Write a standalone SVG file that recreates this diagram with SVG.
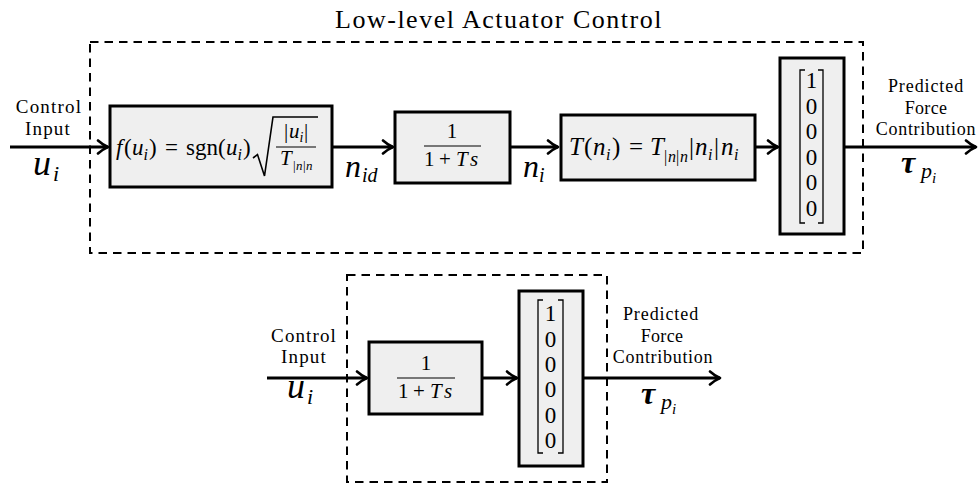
<svg xmlns="http://www.w3.org/2000/svg" width="979" height="487" viewBox="0 0 979 487">
<defs>
<style>
.t{font-family:"Liberation Serif","Times New Roman",serif;fill:#000}
.m{font-family:"Liberation Serif","Times New Roman",serif;font-style:italic;fill:#000}
.blk{fill:#efefef;stroke:#000;stroke-width:3}
.dash{fill:none;stroke:#000;stroke-width:2;stroke-dasharray:8.5 6}
.wire{fill:none;stroke:#000;stroke-width:3}
.thin{fill:none;stroke:#000;stroke-width:1.3}
</style>
<marker id="ah" viewBox="-12 -8 14 16" refX="0" refY="0" markerWidth="14" markerHeight="16" markerUnits="userSpaceOnUse" orient="auto">
<path d="M-10,-6.5 Q-5,-2 0,0 Q-5,2 -10,6.5" fill="none" stroke="#000" stroke-width="2.6" stroke-linecap="round" stroke-linejoin="round"/>
</marker>
</defs>
<rect width="979" height="487" fill="#fff"/>

<g id="title">
<text class="t" x="499" y="28" font-size="26" text-anchor="middle" letter-spacing="1.5">Low-level Actuator Control</text>
</g>

<g id="frame-top"><rect class="dash" x="90" y="42" width="773" height="211"/></g>
<g id="frame-bottom"><rect class="dash" x="347" y="275" width="260" height="207"/></g>

<g id="connectors">
<line class="wire" x1="10" y1="147" x2="108" y2="147" marker-end="url(#ah)"/>
<line class="wire" x1="333" y1="147" x2="393" y2="147" marker-end="url(#ah)"/>
<line class="wire" x1="511" y1="147" x2="558" y2="147" marker-end="url(#ah)"/>
<line class="wire" x1="756" y1="147" x2="778" y2="147" marker-end="url(#ah)"/>
<line class="wire" x1="845" y1="147" x2="976" y2="147" marker-end="url(#ah)"/>
<line class="wire" x1="267" y1="378" x2="367" y2="378" marker-end="url(#ah)"/>
<line class="wire" x1="483" y1="378" x2="517" y2="378" marker-end="url(#ah)"/>
<line class="wire" x1="584" y1="378" x2="720" y2="378" marker-end="url(#ah)"/>
</g>

<g id="labels-top">
<text class="t" x="49" y="113" font-size="19" text-anchor="middle" letter-spacing="1.2">Control</text>
<text class="t" x="48" y="135" font-size="19" text-anchor="middle" letter-spacing="1.2">Input</text>
<text class="m" x="33" y="175" font-size="36">u</text>
<text class="m" x="53" y="181" font-size="22">i</text>
<text class="m" x="345" y="177" font-size="32">n</text>
<text class="m" x="362" y="182" font-size="20">id</text>
<text class="m" x="523" y="177" font-size="32">n</text>
<text class="m" x="539" y="182" font-size="20">i</text>
<text class="t" x="926" y="92" font-size="18" text-anchor="middle" letter-spacing="0.9">Predicted</text>
<text class="t" x="926" y="114" font-size="18" text-anchor="middle" letter-spacing="0.3">Force</text>
<text class="t" x="926" y="135" font-size="18" text-anchor="middle" letter-spacing="0.7">Contribution</text>
<text class="m" x="901" y="173" font-size="32" font-weight="bold">τ</text>
<text class="m" x="921" y="178" font-size="22">p</text>
<text class="m" x="932" y="183" font-size="15">i</text>
</g>

<g id="block-f">
<rect class="blk" x="110" y="106" width="222" height="81"/>
<text class="m" x="116" y="155" font-size="23">f</text>
<text class="t" x="124" y="155" font-size="23">(</text>
<text class="m" x="132" y="155" font-size="23">u</text>
<text class="m" x="143.5" y="160" font-size="16">i</text>
<text class="t" x="149" y="155" font-size="23">)</text>
<text class="t" x="165" y="155" font-size="23">=</text>
<text class="t" x="186" y="155" font-size="23">sgn(</text>
<text class="m" x="226" y="155" font-size="23">u</text>
<text class="m" x="237.5" y="160" font-size="16">i</text>
<text class="t" x="243" y="155" font-size="23">)</text>
<path d="M253,158 L257.5,154.5 L264.5,176 L273,117 L318,117" fill="none" stroke="#000" stroke-width="1.6" stroke-linejoin="miter"/>
<line x1="276" y1="147" x2="316" y2="147" stroke="#000" stroke-width="1.2"/>
<text class="t" x="284" y="138" font-size="21">|</text>
<text class="m" x="289" y="138" font-size="21">u</text>
<text class="m" x="299.5" y="142" font-size="14">i</text>
<text class="t" x="304" y="138" font-size="21">|</text>
<text class="m" x="280" y="165" font-size="21">T</text>
<text class="t" x="293" y="170" font-size="13">|</text>
<text class="m" x="296" y="170" font-size="13">n</text>
<text class="t" x="303" y="170" font-size="13">|</text>
<text class="m" x="306" y="170" font-size="13">n</text>
</g>

<g id="block-lag">
<rect class="blk" x="395" y="112" width="115" height="71"/>
<text class="t" x="452" y="138" font-size="21" text-anchor="middle">1</text>
<line x1="424" y1="146" x2="481" y2="146" stroke="#000" stroke-width="1.2"/>
<text class="t" x="424" y="166" font-size="21">1</text>
<text class="t" x="439" y="166" font-size="21">+</text>
<text class="m" x="456" y="166" font-size="21">T</text>
<text class="m" x="470" y="166" font-size="21">s</text>
</g>

<g id="block-T">
<rect class="blk" x="561" y="115" width="194" height="65"/>
<text class="m" x="569" y="155" font-size="25">T</text>
<text class="t" x="584" y="155" font-size="25">(</text>
<text class="m" x="593" y="155" font-size="25">n</text>
<text class="m" x="606" y="160" font-size="16">i</text>
<text class="t" x="612" y="155" font-size="25">)</text>
<text class="t" x="629" y="155" font-size="25">=</text>
<text class="m" x="650" y="155" font-size="25">T</text>
<text class="t" x="664" y="162" font-size="16">|</text>
<text class="m" x="668" y="162" font-size="16">n</text>
<text class="t" x="676" y="162" font-size="16">|</text>
<text class="m" x="680" y="162" font-size="16">n</text>
<text class="t" x="689" y="155" font-size="25">|</text>
<text class="m" x="695" y="155" font-size="25">n</text>
<text class="m" x="708" y="160" font-size="16">i</text>
<text class="t" x="714" y="155" font-size="25">|</text>
<text class="m" x="721" y="155" font-size="25">n</text>
<text class="m" x="734" y="160" font-size="16">i</text>
</g>

<g id="block-matrix-top">
<rect class="blk" x="780" y="58" width="64" height="176"/>
<path class="thin" d="M805,70 L800,70 L800,223 L805,223 M818,70 L823,70 L823,223 L818,223"/>
<g class="t" font-size="23" text-anchor="middle">
<text x="811.5" y="88">1</text>
<text x="811.5" y="113.5">0</text>
<text x="811.5" y="139">0</text>
<text x="811.5" y="164.5">0</text>
<text x="811.5" y="190">0</text>
<text x="811.5" y="215.5">0</text>
</g>
</g>

<g id="labels-bottom">
<text class="t" x="304" y="342" font-size="19" text-anchor="middle" letter-spacing="1.1">Control</text>
<text class="t" x="304" y="363" font-size="19" text-anchor="middle" letter-spacing="1.2">Input</text>
<text class="m" x="287" y="398" font-size="36">u</text>
<text class="m" x="307" y="404" font-size="22">i</text>
<text class="t" x="661" y="320" font-size="18" text-anchor="middle" letter-spacing="0.9">Predicted</text>
<text class="t" x="662" y="342" font-size="18" text-anchor="middle" letter-spacing="0.3">Force</text>
<text class="t" x="663" y="363" font-size="18" text-anchor="middle" letter-spacing="0.7">Contribution</text>
<text class="m" x="641" y="404" font-size="32" font-weight="bold">τ</text>
<text class="m" x="661" y="409" font-size="22">p</text>
<text class="m" x="672" y="414" font-size="15">i</text>
</g>

<g id="block-lag-bottom">
<rect class="blk" x="369" y="342" width="113" height="72"/>
<text class="t" x="426" y="370" font-size="21" text-anchor="middle">1</text>
<line x1="397" y1="378" x2="455" y2="378" stroke="#000" stroke-width="1.2"/>
<text class="t" x="398" y="398" font-size="21">1</text>
<text class="t" x="413" y="398" font-size="21">+</text>
<text class="m" x="430" y="398" font-size="21">T</text>
<text class="m" x="444" y="398" font-size="21">s</text>
</g>

<g id="block-matrix-bottom">
<rect class="blk" x="519" y="291" width="64" height="175"/>
<path class="thin" d="M543,300 L538,300 L538,453 L543,453 M558,300 L563,300 L563,453 L558,453"/>
<g class="t" font-size="23" text-anchor="middle">
<text x="550.5" y="321">1</text>
<text x="550.5" y="346.5">0</text>
<text x="550.5" y="372">0</text>
<text x="550.5" y="397">0</text>
<text x="550.5" y="422.5">0</text>
<text x="550.5" y="448">0</text>
</g>
</g>
</svg>
